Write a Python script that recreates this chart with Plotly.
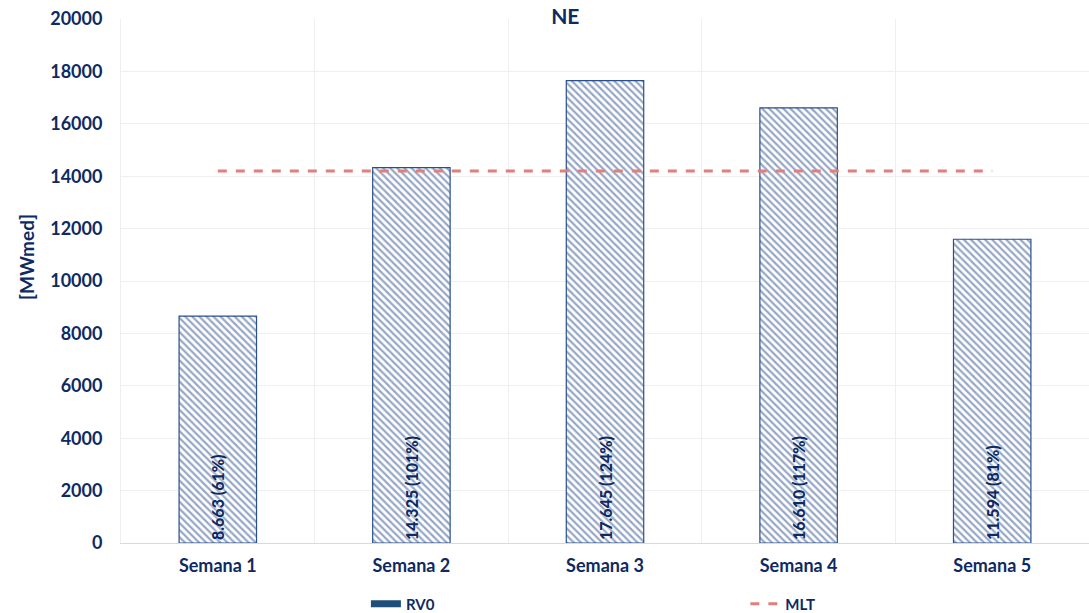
import plotly.graph_objects as go

categories = ["Semana 1", "Semana 2", "Semana 3", "Semana 4", "Semana 5"]
rv0_values = [8663, 14325, 17645, 16610, 11594]
bar_labels = ["8.663 (61%)", "14.325 (101%)", "17.645 (124%)", "16.610 (117%)", "11.594 (81%)"]
mlt_values = [14200, 14200, 14200, 14200, 14200]
y_ticks = [0, 2000, 4000, 6000, 8000, 10000, 12000, 14000, 16000, 18000, 20000]

NAVY = "#0E2A62"
BAR_LINE = "#2B4F8C"
FONT = "Lato"

fig = go.Figure()

fig.add_trace(go.Bar(
    x=categories, y=rv0_values, text=bar_labels,
    width=0.4,
    marker=dict(color="white", line=dict(color=BAR_LINE, width=1.2),
                pattern=dict(shape="\\", fgcolor=BAR_LINE, bgcolor="white", size=5, solidity=0.45)),
    textposition="inside", insidetextanchor="start", textangle=-90,
    textfont=dict(family=FONT, size=16, color=NAVY, weight=900,
                  shadow="0px 0px 2px white"),
    showlegend=False, name="RV0", hoverinfo="x+y",
))

fig.add_trace(go.Scatter(
    x=[None], y=[None], mode="lines", name="<b>RV0</b>",
    line=dict(color="#1F4E79", width=7), legend="legend",
))

fig.add_trace(go.Scatter(
    x=categories, y=mlt_values, mode="lines", name="<b>MLT</b>",
    line=dict(color="#E07F7B", width=3, dash="dash"), legend="legend2",
))

legend_common = dict(orientation="h", xanchor="left", y=-0.085, yanchor="top",
                     font=dict(family=FONT, size=15, color=NAVY),
                     bgcolor="rgba(0,0,0,0)")

fig.update_layout(
    width=1089, height=613,
    margin=dict(l=121, r=0, t=19, b=70, autoexpand=False),
    plot_bgcolor="white", paper_bgcolor="white",
    font=dict(family=FONT, color=NAVY, size=16),
    title=dict(text="<b>NE</b>", x=0.459, xref="paper", xanchor="center",
               y=0.985, yref="container", yanchor="top",
               font=dict(family=FONT, size=21, color=NAVY)),
    showlegend=True,
    legend=dict(x=0.253, **legend_common),
    legend2=dict(x=0.645, **legend_common),
    xaxis=dict(showgrid=True, gridcolor="#EFEFEF", tickson="boundaries",
               ticks="", showline=True, linecolor="#D9D9D9", linewidth=1,
               ticklabelstandoff=6,
               tickfont=dict(family=FONT, size=18, color=NAVY, weight="bold")),
    yaxis=dict(range=[0, 20000], tickvals=y_ticks, tickformat="d",
               showgrid=True, gridcolor="#EFEFEF",
               zeroline=False, showline=True, linecolor="#EFEFEF",
               ticks="", ticklabelstandoff=14,
               tickfont=dict(family=FONT, size=18, color=NAVY, weight="bold")),
    annotations=[dict(text="<b>[MWmed]</b>", xref="paper", yref="paper",
                      x=0, y=0.546, xanchor="center", yanchor="middle",
                      xshift=-94, textangle=-90, showarrow=False,
                      font=dict(family=FONT, size=19, color=NAVY))],
)

fig.write_html("out.html")
